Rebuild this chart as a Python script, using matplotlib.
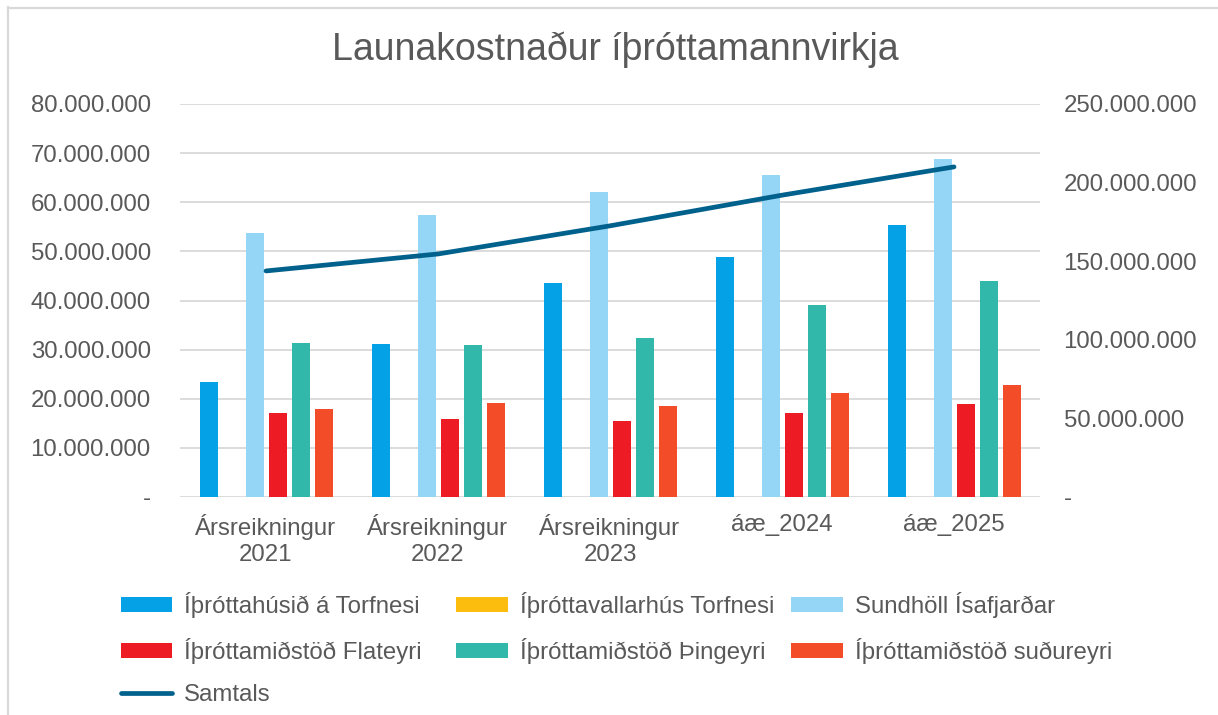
import numpy as np
import matplotlib
matplotlib.use("Agg")
import matplotlib.pyplot as plt
from matplotlib.ticker import FuncFormatter
from matplotlib.lines import Line2D

plt.rcParams['font.family'] = ['Liberation Sans', 'DejaVu Sans']

categories = ["Ársreikningur\n2021", "Ársreikningur\n2022", "Ársreikningur\n2023", "áæ_2024", "áæ_2025"]

torfnes_hus = [23.5e6, 31.2e6, 43.6e6, 48.9e6, 55.3e6]
torfnes_vallar = [0, 0, 0, 0, 0]
sundholl = [53.8e6, 57.4e6, 62.1e6, 65.6e6, 68.8e6]
flateyri = [17.0e6, 15.8e6, 15.5e6, 17.1e6, 18.9e6]
thingeyri = [31.3e6, 31.0e6, 32.4e6, 39.0e6, 44.0e6]
sudureyri = [17.9e6, 19.1e6, 18.5e6, 21.2e6, 22.9e6]
samtals = [143.8e6, 154.6e6, 172.5e6, 192.0e6, 210.0e6]

series = [
    ("Íþróttahúsið á Torfnesi", torfnes_hus, "#05A1E6"),
    ("Íþróttavallarhús Torfnesi", torfnes_vallar, "#FDBD0E"),
    ("Sundhöll Ísafjarðar", sundholl, "#95D5F5"),
    ("Íþróttamiðstöð Flateyri", flateyri, "#ED1C24"),
    ("Íþróttamiðstöð Þingeyri", thingeyri, "#31B8AB"),
    ("Íþróttamiðstöð suðureyri", sudureyri, "#F24D28"),
]

grey = "#595959"
fs = 17.3

def dots(v, pos):
    if v == 0:
        return "-"
    return f"{int(round(v)):,}".replace(",", ".")

fig = plt.figure(figsize=(12.18, 7.15), dpi=100)
ax = fig.add_axes([180/1218, 1-497/715, 860/1218, 393/715])

x = np.arange(len(categories))
slot = 23/172
width = 18/172
handles = []
for i, (name, vals, col) in enumerate(series):
    h = ax.bar(x + (i - 2.5)*slot, vals, width, color=col, label=name, zorder=3)
    handles.append(h)

ax.set_xlim(-0.5, len(categories)-0.5)
ax.set_ylim(0, 80e6)
ax.set_yticks(np.arange(0, 80e6+1, 10e6))
ax.yaxis.set_major_formatter(FuncFormatter(dots))
ax.grid(axis='y', color="#D9D9D9", linewidth=1.3, zorder=0)
ax.set_xticks(x)
ax.set_xticklabels(categories, fontsize=fs, color=grey, linespacing=1.25)
ax.tick_params(axis='both', length=0, labelsize=fs, labelcolor=grey)
ax.tick_params(axis='y', pad=21)
ax.tick_params(axis='x', pad=12)
for s in ax.spines.values():
    s.set_visible(False)

ax2 = ax.twinx()
ln, = ax2.plot(x, samtals, color="#00618C", linewidth=3.4, solid_capstyle='round', label="Samtals", zorder=4)
ax2.set_ylim(0, 250e6)
ax2.set_yticks(np.arange(0, 250e6+1, 50e6))
ax2.yaxis.set_major_formatter(FuncFormatter(dots))
ax2.tick_params(axis='y', length=0, labelsize=fs, labelcolor=grey, pad=17)
for s in ax2.spines.values():
    s.set_visible(False)

fig.text(0.505, 1-50/715, "Launakostnaður íþróttamannvirkja", ha='center', va='center',
         fontsize=27, color=grey)

# legend: three columns laid out row by row, one legend per column
names = [s[0] for s in series] + ["Samtals"]
allh = handles + [ln]
cols = [[0, 3, 6], [1, 4], [2, 5]]
col_x = [120.7, 456, 791]
for cx, idx in zip(col_x, cols):
    fig.legend([allh[k] for k in idx], [names[k] for k in idx],
               loc='upper left', bbox_to_anchor=(cx/1218, 1-592/715),
               frameon=False, fontsize=fs, labelcolor=grey, borderpad=0,
               borderaxespad=0, handlelength=2.15, handleheight=0.53,
               handletextpad=0.5, labelspacing=0.83)

# chart area border (left and top only visible)
fig.add_artist(Line2D([7.5/1218, 7.5/1218], [0, 1-7/715], transform=fig.transFigure,
                      color="#D9D9D9", linewidth=1.6))
fig.add_artist(Line2D([7.5/1218, 1], [1-7.5/715, 1-7.5/715], transform=fig.transFigure,
                      color="#D9D9D9", linewidth=1.6))

fig.savefig("out.png", dpi=100)
